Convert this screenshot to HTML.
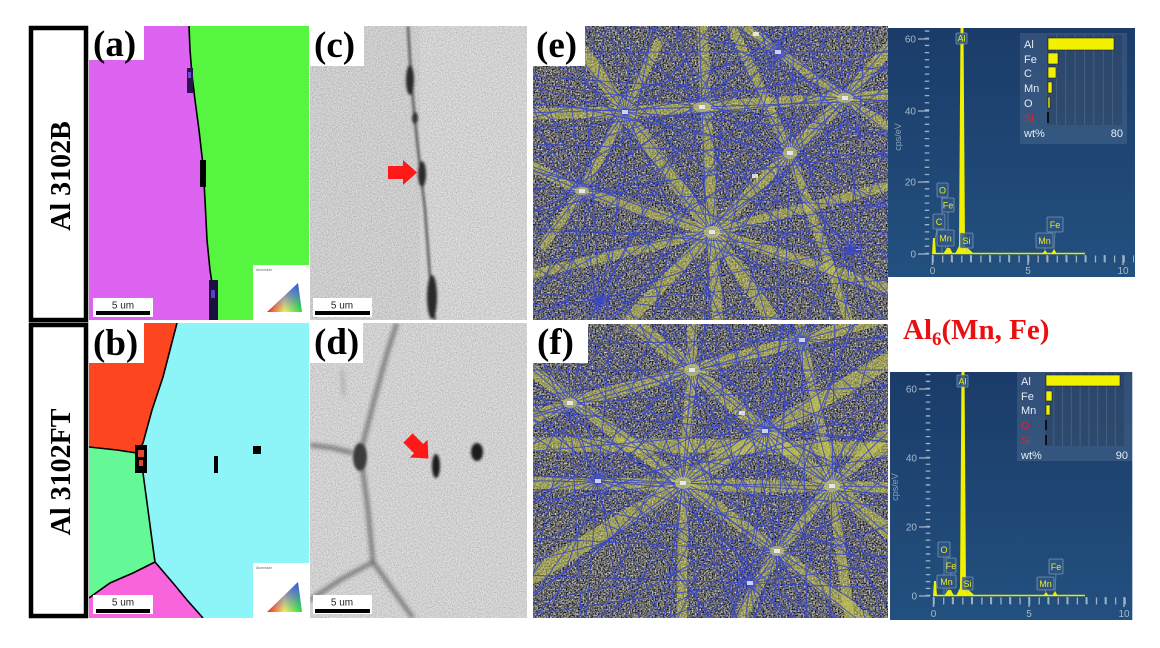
<!DOCTYPE html>
<html><head><meta charset="utf-8"><style>html,body{margin:0;padding:0;background:#fff;width:1160px;height:648px;overflow:hidden}svg{display:block}</style></head><body>
<svg id="root" width="1160" height="648" viewBox="0 0 1160 648" xmlns="http://www.w3.org/2000/svg">
<defs>
<filter id="nk" x="0" y="0" width="1" height="1" color-interpolation-filters="sRGB">
<feTurbulence type="fractalNoise" baseFrequency="0.65" numOctaves="2" seed="4"/>
<feColorMatrix type="matrix" values="1.5 0 0 0 -0.33  1.5 0 0 0 -0.33  1.5 0 0 0 -0.33  0 0 0 0 1"/>
</filter>
<filter id="ns" x="0" y="0" width="1" height="1" color-interpolation-filters="sRGB">
<feTurbulence type="fractalNoise" baseFrequency="0.8" numOctaves="2" seed="9"/>
<feColorMatrix type="matrix" values="1 0 0 0 0.3  1 0 0 0 0.3  1 0 0 0 0.3  0 0 0 0 0.35"/>
</filter>
<filter id="bl1"><feGaussianBlur stdDeviation="1.2"/></filter>
<filter id="bl2"><feGaussianBlur stdDeviation="2"/></filter>
<clipPath id="ca"><rect x="89" y="26" width="220" height="294"/></clipPath>
<clipPath id="cb"><rect x="89" y="323" width="220" height="295"/></clipPath>
<clipPath id="cc"><rect x="310" y="26" width="217" height="294"/></clipPath>
<clipPath id="cd"><rect x="310" y="323" width="217" height="295"/></clipPath>
<clipPath id="ce"><rect x="533" y="26" width="355" height="294"/></clipPath>
<clipPath id="cf"><rect x="533" y="324" width="355" height="294"/></clipPath>
<clipPath id="ct"><rect x="888" y="28" width="247" height="249"/></clipPath>
<clipPath id="cu"><rect x="890" y="372" width="243" height="248"/></clipPath>
<linearGradient id="eds" x1="0" y1="0" x2="0" y2="1"><stop offset="0" stop-color="#1b3c69"/><stop offset="1" stop-color="#22507f"/></linearGradient>
<linearGradient id="ipf" x1="0" y1="0" x2="1" y2="0"><stop offset="0" stop-color="#ff2020"/><stop offset="0.5" stop-color="#f0f060"/><stop offset="1" stop-color="#20e040"/></linearGradient>
<linearGradient id="ipf2" x1="0" y1="1" x2="0" y2="0"><stop offset="0" stop-color="#4040ff" stop-opacity="0"/><stop offset="1" stop-color="#4040ff" stop-opacity="0.9"/></linearGradient>
<g id="star" stroke="#3a46c8" stroke-width="1" stroke-opacity="0.85">
<line x1="-420" y1="0" x2="420" y2="0"/>
<line x1="-395" y1="-144" x2="395" y2="144"/>
<line x1="-344" y1="-241" x2="344" y2="241"/>
<line x1="-270" y1="-322" x2="270" y2="322"/>
<line x1="-178" y1="-381" x2="178" y2="381"/>
<line x1="-73" y1="-414" x2="73" y2="414"/>
<line x1="37" y1="-418" x2="-37" y2="418"/>
<line x1="144" y1="-395" x2="-144" y2="395"/>
<line x1="241" y1="-344" x2="-241" y2="344"/>
<line x1="322" y1="-270" x2="-322" y2="270"/>
<line x1="381" y1="-178" x2="-381" y2="178"/>
<line x1="414" y1="-73" x2="-414" y2="73"/>
</g>
</defs>

<rect width="1160" height="648" fill="#fff"/>

<!-- Left label boxes -->
<rect x="31" y="28" width="55" height="292" fill="#fff" stroke="#000" stroke-width="4.5"/>
<rect x="31" y="325" width="55" height="291" fill="#fff" stroke="#000" stroke-width="4.5"/>
<text transform="translate(70,176) rotate(-90)" text-anchor="middle" font-family="Liberation Serif, serif" font-weight="bold" font-size="28" fill="#000">Al 3102B</text>
<text transform="translate(70,472) rotate(-90)" text-anchor="middle" font-family="Liberation Serif, serif" font-weight="bold" font-size="28" fill="#000">Al 3102FT</text>

<!-- Panel (a) -->
<g clip-path="url(#ca)">
<rect x="89" y="26" width="220" height="294" fill="#dc64f0"/>
<polygon points="189,26 190,50 192,75 195,100 199,130 203,165 205,200 207,240 210,270 213,290 217,320 309,320 309,26" fill="#55f540"/>
<polyline points="189,26 190,50 192,75 195,100 199,130 203,165 205,200 207,240 210,270 213,290 217,320" fill="none" stroke="#000" stroke-width="1.6"/>
<rect x="187" y="68" width="6" height="25" fill="#2a1450"/>
<rect x="188" y="72" width="3" height="6" fill="#6a50d0"/>
<rect x="200" y="160" width="6" height="27" fill="#000"/>
<rect x="209" y="280" width="9" height="40" fill="#1a1040"/>
<rect x="211" y="290" width="4" height="8" fill="#5a40c8"/>
<rect x="253" y="265" width="56" height="55" fill="#fff"/>
<text x="256" y="271" font-family="Liberation Sans, sans-serif" font-size="3.5" fill="#666">Aluminium</text>
<polygon points="267,312 302,312 298,283" fill="url(#ipf)"/>
<polygon points="267,312 302,312 298,283" fill="url(#ipf2)"/>
<rect x="93" y="298" width="60" height="19" fill="#fff"/>
<text x="123" y="308.5" text-anchor="middle" font-family="Liberation Sans, sans-serif" font-size="10" fill="#222">5 um</text>
<rect x="96" y="311" width="54" height="4" fill="#000"/>
</g>
<rect x="89" y="26" width="55" height="34" fill="#fff"/>
<text x="93" y="56" font-family="Liberation Serif, serif" font-weight="bold" font-size="37" fill="#000">(a)</text>

<!-- Panel (b) -->
<g clip-path="url(#cb)">
<rect x="89" y="323" width="220" height="295" fill="#8df4f8"/>
<polygon points="89,323 177,323 170,350 163,377 152,410 143,443 137,453 117,450 89,447" fill="#fd4620"/>
<polygon points="89,447 117,450 137,453 143,473 148,510 152,540 155,562 133,573 110,583 89,598" fill="#64f896"/>
<polygon points="89,598 110,583 133,573 155,562 173,583 187,600 203,618 89,618" fill="#f864dc"/>
<polyline points="177,323 170,350 163,377 152,410 143,443 137,453 117,450 89,447" fill="none" stroke="#000" stroke-width="1.6"/>
<polyline points="137,453 143,473 148,510 152,540 155,562 133,573 110,583 89,598" fill="none" stroke="#000" stroke-width="1.6"/>
<polyline points="155,562 173,583 187,600 203,618" fill="none" stroke="#000" stroke-width="1.6"/>
<rect x="135" y="445" width="12" height="28" fill="#000"/>
<rect x="138" y="450" width="6" height="7" fill="#e04830"/>
<rect x="139" y="460" width="4" height="6" fill="#e04830"/>
<rect x="214" y="456" width="4" height="17" fill="#000"/>
<rect x="253" y="446" width="8" height="8" fill="#000"/>
<rect x="253" y="563" width="56" height="55" fill="#fff"/>
<text x="256" y="569" font-family="Liberation Sans, sans-serif" font-size="3.5" fill="#666">Aluminium</text>
<polygon points="267,612 302,612 298,582" fill="url(#ipf)"/>
<polygon points="267,612 302,612 298,582" fill="url(#ipf2)"/>
<rect x="93" y="595" width="60" height="19" fill="#fff"/>
<text x="123" y="605.5" text-anchor="middle" font-family="Liberation Sans, sans-serif" font-size="10" fill="#222">5 um</text>
<rect x="96" y="609" width="54" height="4" fill="#000"/>
</g>
<rect x="89" y="323" width="55" height="40" fill="#fff"/>
<text x="93" y="355" font-family="Liberation Serif, serif" font-weight="bold" font-size="37" fill="#000">(b)</text>

<!-- Panel (c) -->
<g clip-path="url(#cc)">
<rect x="310" y="26" width="217" height="294" fill="#cbcbcb"/>
<rect x="420" y="26" width="107" height="294" fill="#d4d4d4"/>
<rect x="310" y="26" width="217" height="294" filter="url(#ns)"/>
<g filter="url(#bl1)">
<polyline points="408,26 410,60 413,100 417,140 421,175 425,210 428,250 431,290 435,320" fill="none" stroke="#4a4a4a" stroke-width="2.2"/>
<ellipse cx="410" cy="80" rx="4" ry="15" fill="#2a2a2a"/>
<ellipse cx="415" cy="118" rx="3" ry="6" fill="#333"/>
<ellipse cx="422" cy="174" rx="4" ry="13" fill="#2a2a2a"/>
<ellipse cx="432" cy="297" rx="5" ry="22" fill="#2a2a2a"/>
</g>
<polygon points="388,166 403,166 403,160 417,172.5 403,185 403,179 388,179" fill="#ff1818"/>
<rect x="313" y="298" width="59" height="19" fill="#fff"/>
<text x="342" y="308.5" text-anchor="middle" font-family="Liberation Sans, sans-serif" font-size="10" fill="#222">5 um</text>
<rect x="315" y="311" width="55" height="4" fill="#000"/>
</g>
<rect x="310" y="26" width="54" height="40" fill="#fff"/>
<text x="314" y="57" font-family="Liberation Serif, serif" font-weight="bold" font-size="37" fill="#000">(c)</text>

<!-- Panel (d) -->
<g clip-path="url(#cd)">
<rect x="310" y="323" width="217" height="295" fill="#d2d2d2"/>
<rect x="310" y="323" width="217" height="295" filter="url(#ns)"/>
<g filter="url(#bl2)" fill="none" stroke="#666" stroke-width="3.5">
<polyline points="397,323 388,350 375,397 363,443 360,457"/>
<polyline points="310,445 333,448 353,453"/>
<polyline points="362,465 368,510 373,562"/>
<polyline points="373,562 340,580 310,600"/>
<polyline points="373,562 393,590 413,618"/>
<line x1="342" y1="370" x2="344" y2="396" stroke="#999" stroke-width="2"/>
</g>
<g filter="url(#bl1)">
<ellipse cx="360" cy="457" rx="7" ry="14" fill="#3a3a3a"/>
<ellipse cx="436" cy="466" rx="4" ry="12" fill="#1e1e1e"/>
<ellipse cx="477" cy="452" rx="6" ry="9" fill="#1e1e1e"/>
</g>
<polygon points="0,-6.5 15,-6.5 15,-12.5 29,0 15,12.5 15,6.5 0,6.5" transform="translate(408,438) rotate(45)" fill="#ff1818"/>
<rect x="313" y="595" width="59" height="19" fill="#fff"/>
<text x="342" y="605.5" text-anchor="middle" font-family="Liberation Sans, sans-serif" font-size="10" fill="#222">5 um</text>
<rect x="315" y="609" width="55" height="4" fill="#000"/>
</g>
<rect x="310" y="323" width="53" height="40" fill="#fff"/>
<text x="314" y="354" font-family="Liberation Serif, serif" font-weight="bold" font-size="37" fill="#000">(d)</text>

<!-- Panel (e) Kikuchi -->
<g clip-path="url(#ce)">
<rect x="533" y="26" width="355" height="294" filter="url(#nk)"/>
<g fill="none" stroke="#cfcf50" stroke-opacity="0.5" stroke-linejoin="round">
<polyline points="702,22 712,232 718,324" stroke-width="11"/>
<polyline points="529,114 625,112 702,107 845,98 892,95" stroke-width="11"/>
<polyline points="575,40 647,143 712,232 776,324" stroke-width="13"/>
<polyline points="892,45 845,98 790,153 712,232 625,324" stroke-width="12"/>
<polyline points="529,165 582,191 712,232 892,290" stroke-width="10"/>
<polyline points="529,275 712,232 892,185" stroke-width="9"/>
<polyline points="540,250 582,191 625,112 660,40" stroke-width="9"/>
<polyline points="740,22 778,52 845,98 892,130" stroke-width="9"/>
<polyline points="730,22 790,153 850,324" stroke-width="9"/>
</g>
<g id="ke">
<use href="#star" transform="translate(712,232)"/>
<use href="#star" transform="translate(702,107) rotate(8)"/>
<use href="#star" transform="translate(845,98) rotate(4)"/>
<use href="#star" transform="translate(790,153) rotate(12)"/>
<use href="#star" transform="translate(582,191) rotate(3)"/>
<use href="#star" transform="translate(625,112) rotate(15)"/>
<use href="#star" transform="translate(778,52) rotate(10)"/>
<use href="#star" transform="translate(600,300) rotate(6)"/>
<use href="#star" transform="translate(850,250) rotate(14)"/>
</g>
<g fill="#e0e060" fill-opacity="0.6">
<ellipse cx="712" cy="232" rx="8" ry="6"/>
<ellipse cx="702" cy="107" rx="9" ry="5"/>
<ellipse cx="845" cy="98" rx="8" ry="5"/>
<ellipse cx="790" cy="153" rx="7" ry="6"/>
<ellipse cx="582" cy="191" rx="7" ry="4"/>
</g>
<g fill="#fff" fill-opacity="0.75">
<rect x="709" y="230" width="6" height="4"/><rect x="699" y="105" width="6" height="4"/><rect x="842" y="96" width="6" height="4"/>
<rect x="787" y="151" width="6" height="4"/><rect x="579" y="189" width="6" height="4"/><rect x="622" y="110" width="6" height="4"/>
<rect x="775" y="50" width="6" height="4"/><rect x="752" y="174" width="6" height="4"/><rect x="753" y="32" width="6" height="4"/>
</g>
</g>
<rect x="533" y="26" width="52" height="40" fill="#fff"/>
<text x="536" y="57" font-family="Liberation Serif, serif" font-weight="bold" font-size="37" fill="#000">(e)</text>

<!-- Panel (f) Kikuchi -->
<g clip-path="url(#cf)">
<rect x="533" y="324" width="355" height="294" filter="url(#nk)"/>
<g fill="none" stroke="#cfcf50" stroke-opacity="0.5" stroke-linejoin="round">
<polyline points="692,320 692,370 683,483 682,622" stroke-width="10"/>
<polyline points="529,444 700,446 892,450" stroke-width="14"/>
<polyline points="529,483 700,485 892,488" stroke-width="12"/>
<polyline points="630,320 692,370 765,431 832,486 892,534" stroke-width="14"/>
<polyline points="529,420 570,403 692,370 802,340 892,316" stroke-width="12"/>
<polyline points="529,578 683,483 830,395 892,358" stroke-width="16"/>
<polyline points="892,428 832,486 777,551 737,622" stroke-width="12"/>
<polyline points="529,368 683,483 777,551 868,622" stroke-width="12"/>
<polyline points="800,320 802,340 832,486 850,622" stroke-width="10"/>
</g>
<g id="kf">
<use href="#star" transform="translate(692,370)"/>
<use href="#star" transform="translate(570,403) rotate(7)"/>
<use href="#star" transform="translate(683,483) rotate(3)"/>
<use href="#star" transform="translate(832,486) rotate(11)"/>
<use href="#star" transform="translate(765,431) rotate(5)"/>
<use href="#star" transform="translate(777,551) rotate(13)"/>
<use href="#star" transform="translate(802,340) rotate(9)"/>
<use href="#star" transform="translate(598,481) rotate(15)"/>
<use href="#star" transform="translate(750,583) rotate(2)"/>
</g>
<g fill="#e0e060" fill-opacity="0.6">
<ellipse cx="692" cy="370" rx="8" ry="6"/>
<ellipse cx="683" cy="483" rx="8" ry="6"/>
<ellipse cx="832" cy="486" rx="8" ry="6"/>
<ellipse cx="570" cy="403" rx="7" ry="5"/>
<ellipse cx="777" cy="551" rx="7" ry="5"/>
</g>
<g fill="#fff" fill-opacity="0.75">
<rect x="689" y="368" width="6" height="4"/><rect x="680" y="481" width="6" height="4"/><rect x="829" y="484" width="6" height="4"/>
<rect x="567" y="401" width="6" height="4"/><rect x="774" y="549" width="6" height="4"/><rect x="799" y="338" width="6" height="4"/>
<rect x="762" y="429" width="6" height="4"/><rect x="739" y="411" width="6" height="4"/><rect x="595" y="479" width="6" height="4"/><rect x="747" y="581" width="6" height="4"/>
</g>
</g>
<rect x="533" y="324" width="55" height="39" fill="#fff"/>
<text x="537" y="354" font-family="Liberation Serif, serif" font-weight="bold" font-size="37" fill="#000">(f)</text>

<!-- EDS top -->
<g clip-path="url(#ct)" font-family="Liberation Sans, DejaVu Sans, sans-serif">
<rect x="888" y="28" width="247" height="249" fill="url(#eds)"/>
<g stroke="#9fb1c4" stroke-width="1.3">
<line x1="918" y1="39" x2="929" y2="39"/><line x1="918" y1="111" x2="929" y2="111"/><line x1="918" y1="182" x2="929" y2="182"/><line x1="918" y1="254" x2="929" y2="254"/>
</g>
<line x1="927" y1="254" x2="927" y2="30" stroke="#9fb1c4" stroke-width="4.5" stroke-dasharray="1.3 5.87"/>
<line x1="932.5" y1="259" x2="1134" y2="259" stroke="#9fb1c4" stroke-width="7" stroke-dasharray="1.3 8.25"/>
<g stroke="#9fb1c4" stroke-width="1.5">
<line x1="932.5" y1="255" x2="932.5" y2="265"/><line x1="1028" y1="255" x2="1028" y2="265"/><line x1="1123" y1="255" x2="1123" y2="265"/>
<line x1="951.6" y1="255" x2="951.6" y2="262"/><line x1="970.7" y1="255" x2="970.7" y2="262"/><line x1="989.8" y1="255" x2="989.8" y2="262"/><line x1="1008.9" y1="255" x2="1008.9" y2="262"/>
<line x1="1047.1" y1="255" x2="1047.1" y2="262"/><line x1="1066.2" y1="255" x2="1066.2" y2="262"/><line x1="1085.3" y1="255" x2="1085.3" y2="262"/><line x1="1104.4" y1="255" x2="1104.4" y2="262"/>
</g>
<g fill="#a9b8c8" font-size="10">
<text x="916" y="42.5" text-anchor="end">60</text><text x="916" y="114.5" text-anchor="end">40</text><text x="916" y="185.5" text-anchor="end">20</text><text x="916" y="257.5" text-anchor="end">0</text>
<text x="932.5" y="274" text-anchor="middle">0</text><text x="1028" y="274" text-anchor="middle">5</text><text x="1123" y="274" text-anchor="middle">10</text>
</g>
<text transform="translate(901,137) rotate(-90)" text-anchor="middle" font-size="9" fill="#8fa2b8">cps/eV</text>
<line x1="932" y1="253.5" x2="1085" y2="253.5" stroke="#e8e800" stroke-width="1.6"/>
<g fill="#f0f000">
<polygon points="932,254 933,238 935,238 936,254"/>
<polygon points="943,254 947,248 950,248 953,254"/>
<polygon points="955,254 959,246 960.5,28 963.5,28 965,246 971,251 974,254"/>
<polygon points="1042,254 1045,250 1048,254"/>
<polygon points="1051,254 1054,249 1057,254"/>
</g>
<g stroke="#9ab4cc" stroke-opacity="0.6" stroke-width="0.8" fill="none">
<line x1="942" y1="197" x2="942" y2="252"/><line x1="948" y1="212" x2="948" y2="250"/><line x1="937" y1="229" x2="935" y2="240"/>
<line x1="945" y1="246" x2="947" y2="250"/><line x1="966" y1="248" x2="967" y2="252"/><line x1="1045" y1="248" x2="1045" y2="251"/><line x1="1055" y1="232" x2="1054" y2="250"/>
</g>
<g fill="#2f5683" fill-opacity="0.85" stroke="#9ab4cc" stroke-opacity="0.7" stroke-width="0.8">
<rect x="956" y="33" width="11" height="11" rx="1"/>
<rect x="937" y="183" width="11" height="14" rx="1"/>
<rect x="942" y="198" width="12" height="14" rx="1"/>
<rect x="933" y="214" width="12" height="15" rx="1"/>
<rect x="937" y="230" width="17" height="16" rx="1"/>
<rect x="960" y="233" width="13" height="15" rx="1"/>
<rect x="1036" y="233" width="17" height="15" rx="1"/>
<rect x="1047" y="217" width="16" height="15" rx="1"/>
</g>
<g fill="#e8e830" font-size="9" text-anchor="middle">
<text x="961.5" y="41.5">Al</text>
<text x="942.5" y="193.5">O</text>
<text x="948" y="208.5">Fe</text>
<text x="939" y="225">C</text>
<text x="945.5" y="241.5">Mn</text>
<text x="966.5" y="244">Si</text>
<text x="1044.5" y="244">Mn</text>
<text x="1055" y="228">Fe</text>
</g>
<rect x="1020" y="33" width="107" height="111" fill="#ffffff" fill-opacity="0.1"/>
<rect x="1047" y="35" width="75" height="90" fill="#000" fill-opacity="0.12"/>
<g stroke="#6d87a6" stroke-opacity="0.45" stroke-width="0.8">
<line x1="1056.4" y1="35" x2="1056.4" y2="125"/><line x1="1065.7" y1="35" x2="1065.7" y2="125"/><line x1="1075.1" y1="35" x2="1075.1" y2="125"/><line x1="1084.5" y1="35" x2="1084.5" y2="125"/>
<line x1="1093.8" y1="35" x2="1093.8" y2="125"/><line x1="1103.2" y1="35" x2="1103.2" y2="125"/><line x1="1112.6" y1="35" x2="1112.6" y2="125"/>
</g>
<g fill="#f2f200" stroke="#222" stroke-width="0.6">
<rect x="1048" y="38" width="66" height="12"/>
<rect x="1048" y="53" width="10" height="11"/>
<rect x="1048" y="67" width="8" height="11"/>
<rect x="1048" y="82" width="4" height="11"/>
<rect x="1048" y="97" width="2" height="11"/>
</g>
<rect x="1047" y="112" width="2" height="11" fill="#111"/>
<g fill="#e4ecf4" font-size="11">
<text x="1024" y="48">Al</text><text x="1024" y="63">Fe</text><text x="1024" y="77">C</text><text x="1024" y="92">Mn</text><text x="1024" y="107">O</text>
<text x="1024" y="122" fill="#d02a3a">Si</text>
<text x="1024" y="137">wt%</text><text x="1123" y="137" text-anchor="end">80</text>
</g>
</g>

<!-- Al6(Mn, Fe) -->
<text x="903" y="339" font-family="Liberation Serif, serif" font-weight="bold" font-size="29" fill="#e81010">Al<tspan font-size="19" dy="6">6</tspan><tspan dy="-6">(Mn, Fe)</tspan></text>

<!-- EDS bottom -->
<g clip-path="url(#cu)" font-family="Liberation Sans, DejaVu Sans, sans-serif">
<rect x="890" y="372" width="243" height="248" fill="url(#eds)"/>
<line x1="1132.5" y1="372" x2="1132.5" y2="620" stroke="#b8c8d8" stroke-width="1"/>
<g stroke="#9fb1c4" stroke-width="1.3">
<line x1="919" y1="389" x2="930" y2="389"/><line x1="919" y1="458" x2="930" y2="458"/><line x1="919" y1="527" x2="930" y2="527"/><line x1="919" y1="596" x2="930" y2="596"/>
</g>
<line x1="928" y1="596" x2="928" y2="372" stroke="#9fb1c4" stroke-width="4.5" stroke-dasharray="1.3 5.6"/>
<line x1="933.5" y1="601" x2="1133" y2="601" stroke="#9fb1c4" stroke-width="7" stroke-dasharray="1.3 8.25"/>
<g stroke="#9fb1c4" stroke-width="1.5">
<line x1="933.5" y1="597" x2="933.5" y2="607"/><line x1="1029" y1="597" x2="1029" y2="607"/><line x1="1124" y1="597" x2="1124" y2="607"/>
<line x1="952.6" y1="597" x2="952.6" y2="604"/><line x1="971.7" y1="597" x2="971.7" y2="604"/><line x1="990.8" y1="597" x2="990.8" y2="604"/><line x1="1009.9" y1="597" x2="1009.9" y2="604"/>
<line x1="1048.1" y1="597" x2="1048.1" y2="604"/><line x1="1067.2" y1="597" x2="1067.2" y2="604"/><line x1="1086.3" y1="597" x2="1086.3" y2="604"/><line x1="1105.4" y1="597" x2="1105.4" y2="604"/>
</g>
<g fill="#a9b8c8" font-size="10">
<text x="917" y="392.5" text-anchor="end">60</text><text x="917" y="461.5" text-anchor="end">40</text><text x="917" y="530.5" text-anchor="end">20</text><text x="917" y="599.5" text-anchor="end">0</text>
<text x="933.5" y="617" text-anchor="middle">0</text><text x="1029" y="617" text-anchor="middle">5</text><text x="1124" y="617" text-anchor="middle">10</text>
</g>
<text transform="translate(898,487) rotate(-90)" text-anchor="middle" font-size="9" fill="#8fa2b8">cps/eV</text>
<line x1="933" y1="595.5" x2="1085" y2="595.5" stroke="#e8e800" stroke-width="1.6"/>
<g fill="#f0f000">
<polygon points="933,596 934,581 936,581 937,596"/>
<polygon points="944,596 948,590 951,590 954,596"/>
<polygon points="956,596 960,588 961.5,372 964.5,372 966,588 972,593 975,596"/>
<polygon points="1043,596 1046,592 1049,596"/>
<polygon points="1052,596 1055,591 1058,596"/>
</g>
<g stroke="#9ab4cc" stroke-opacity="0.6" stroke-width="0.8" fill="none">
<line x1="944" y1="557" x2="944" y2="594"/><line x1="951" y1="573" x2="949" y2="592"/><line x1="946" y1="588" x2="947" y2="592"/>
<line x1="967" y1="590" x2="968" y2="594"/><line x1="1045" y1="590" x2="1046" y2="593"/><line x1="1056" y1="574" x2="1055" y2="592"/>
</g>
<g fill="#2f5683" fill-opacity="0.85" stroke="#9ab4cc" stroke-opacity="0.7" stroke-width="0.8">
<rect x="957" y="375" width="11" height="12" rx="1"/>
<rect x="938" y="542" width="12" height="15" rx="1"/>
<rect x="946" y="558" width="10" height="15" rx="1"/>
<rect x="937" y="575" width="19" height="13" rx="1"/>
<rect x="962" y="577" width="11" height="13" rx="1"/>
<rect x="1037" y="577" width="17" height="13" rx="1"/>
<rect x="1049" y="559" width="14" height="15" rx="1"/>
</g>
<g fill="#e8e830" font-size="9" text-anchor="middle">
<text x="962.5" y="384.5">Al</text>
<text x="944" y="553">O</text>
<text x="951" y="569">Fe</text>
<text x="946.5" y="585">Mn</text>
<text x="967.5" y="587">Si</text>
<text x="1045.5" y="587">Mn</text>
<text x="1056" y="570">Fe</text>
</g>
<rect x="1017" y="372" width="116" height="89" fill="#ffffff" fill-opacity="0.1"/>
<rect x="1045" y="373" width="79" height="73" fill="#000" fill-opacity="0.12"/>
<g stroke="#6d87a6" stroke-opacity="0.45" stroke-width="0.8">
<line x1="1053.8" y1="373" x2="1053.8" y2="446"/><line x1="1062.6" y1="373" x2="1062.6" y2="446"/><line x1="1071.3" y1="373" x2="1071.3" y2="446"/><line x1="1080.1" y1="373" x2="1080.1" y2="446"/>
<line x1="1088.9" y1="373" x2="1088.9" y2="446"/><line x1="1097.7" y1="373" x2="1097.7" y2="446"/><line x1="1106.4" y1="373" x2="1106.4" y2="446"/><line x1="1115.2" y1="373" x2="1115.2" y2="446"/>
</g>
<g fill="#f2f200" stroke="#222" stroke-width="0.6">
<rect x="1046" y="375" width="74" height="11"/>
<rect x="1046" y="391" width="6" height="10"/>
<rect x="1046" y="405" width="4" height="10"/>
</g>
<rect x="1045" y="420" width="2" height="10" fill="#111"/>
<rect x="1045" y="435" width="2" height="10" fill="#111"/>
<g fill="#e4ecf4" font-size="11">
<text x="1021" y="385">Al</text><text x="1021" y="400">Fe</text><text x="1021" y="414">Mn</text>
<text x="1021" y="429" fill="#d02a3a">O</text><text x="1021" y="444" fill="#d02a3a">Si</text>
<text x="1021" y="459">wt%</text><text x="1128" y="459" text-anchor="end">90</text>
</g>
</g>
</svg>
<script>
(function(){
  var NS="http://www.w3.org/2000/svg";
  var angs=[0,20,35,50,65,80,95,110,125,140,155,170];
  var panels=[
    {id:"ke",x0:533,y0:26,x1:888,y1:320,z:[[712,232,0],[702,107,8],[845,98,4],[790,153,12],[582,191,3],[625,112,15],[778,52,10],[600,300,6],[850,250,14]]},
    {id:"kf",x0:533,y0:324,x1:888,y1:618,z:[[692,370,0],[570,403,7],[683,483,3],[832,486,11],[765,431,5],[777,551,13],[802,340,9],[598,481,15],[750,583,2]]}
  ];
  panels.forEach(function(p){
    var g=document.getElementById(p.id);
    if(!g) return;
    while(g.firstChild) g.removeChild(g.firstChild);
    g.setAttribute("stroke","#3a46c8");
    g.setAttribute("stroke-width","1");
    g.setAttribute("stroke-opacity","0.85");
    p.z.forEach(function(z){
      angs.forEach(function(a){
        var r=(a+z[2])*Math.PI/180, c=Math.cos(r), s=Math.sin(r);
        var tmin=-1e9, tmax=1e9, t1, t2;
        if(Math.abs(c)>1e-6){t1=(p.x0-z[0])/c;t2=(p.x1-z[0])/c;tmin=Math.max(tmin,Math.min(t1,t2));tmax=Math.min(tmax,Math.max(t1,t2));}
        if(Math.abs(s)>1e-6){t1=(p.y0-z[1])/s;t2=(p.y1-z[1])/s;tmin=Math.max(tmin,Math.min(t1,t2));tmax=Math.min(tmax,Math.max(t1,t2));}
        if(tmax<=tmin) return;
        var l=document.createElementNS(NS,"line");
        l.setAttribute("x1",(z[0]+c*tmin).toFixed(1));
        l.setAttribute("y1",(z[1]+s*tmin).toFixed(1));
        l.setAttribute("x2",(z[0]+c*tmax).toFixed(1));
        l.setAttribute("y2",(z[1]+s*tmax).toFixed(1));
        g.appendChild(l);
      });
    });
  });
})();
</script>
</body></html>
